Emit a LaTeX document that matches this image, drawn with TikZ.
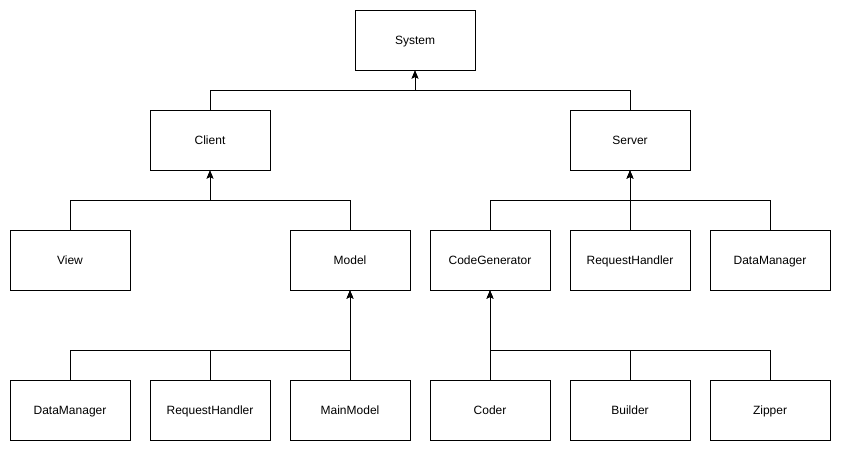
\documentclass[tikz,border=0pt]{standalone}
\usepackage{fontspec}
\setmainfont{Liberation Sans}
\usetikzlibrary{arrows.meta}
\begin{document}
\begin{tikzpicture}[x=0.75pt,y=-0.75pt,
  box/.style={draw,line width=0.75pt,minimum width=90pt,minimum height=45pt,inner sep=0pt,text height=7.5pt,text depth=1pt,font=\fontsize{9}{11}\selectfont},
  conn/.style={draw,line width=0.75pt,-{Stealth[length=6pt,width=5pt,inset=1.2pt]}}]
\useasboundingbox (0,0) rectangle (841,451);
\node[box] (sys) at (415,40) {System};
\node[box] (cli) at (210,140) {Client};
\node[box] (srv) at (630,140) {Server};
\node[box] (view) at (70,260) {View};
\node[box] (model) at (350,260) {Model};
\node[box] (cg) at (490,260) {CodeGenerator};
\node[box] (rh1) at (630,260) {RequestHandler};
\node[box] (dm1) at (770,260) {DataManager};
\node[box] (dm2) at (70,410) {DataManager};
\node[box] (rh2) at (210,410) {RequestHandler};
\node[box] (mm) at (350,410) {MainModel};
\node[box] (coder) at (490,410) {Coder};
\node[box] (bld) at (630,410) {Builder};
\node[box] (zip) at (770,410) {Zipper};
\draw[conn] (cli.north) |- (415,90) -- (sys.south);
\draw[conn] (srv.north) |- (415,90) -- (sys.south);
\draw[conn] (view.north) |- (210,200) -- (cli.south);
\draw[conn] (model.north) |- (210,200) -- (cli.south);
\draw[conn] (cg.north) |- (630,200) -- (srv.south);
\draw[conn] (rh1.north) -- (srv.south);
\draw[conn] (dm1.north) |- (630,200) -- (srv.south);
\draw[conn] (dm2.north) |- (350,350) -- (model.south);
\draw[conn] (rh2.north) |- (350,350) -- (model.south);
\draw[conn] (mm.north) -- (model.south);
\draw[conn] (coder.north) -- (cg.south);
\draw[conn] (bld.north) |- (490,350) -- (cg.south);
\draw[conn] (zip.north) |- (490,350) -- (cg.south);
\end{tikzpicture}
\end{document}
